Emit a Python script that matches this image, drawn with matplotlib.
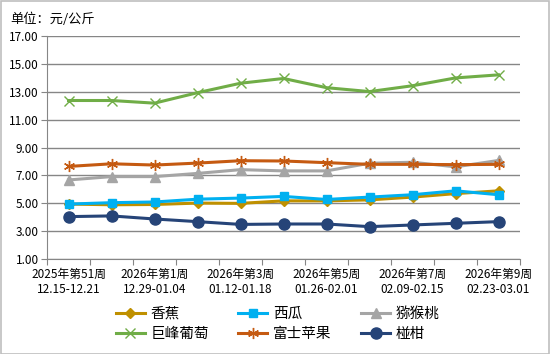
import numpy as np
import matplotlib
matplotlib.use('Agg')
import matplotlib.pyplot as plt
from matplotlib.patches import Rectangle

plt.rcParams['font.family'] = ['Noto Sans CJK SC', 'DejaVu Sans']

# --- dati ---
weeks = ['2025年第51周\n12.15-12.21', '2025年第52周\n12.22-12.28',
         '2026年第1周\n12.29-01.04', '2026年第2周\n01.05-01.11',
         '2026年第3周\n01.12-01.18', '2026年第4周\n01.19-01.25',
         '2026年第5周\n01.26-02.01', '2026年第6周\n02.02-02.08',
         '2026年第7周\n02.09-02.15', '2026年第8周\n02.16-02.22',
         '2026年第9周\n02.23-03.01']

banana = [4.95, 4.90, 4.92, 5.02, 5.00, 5.18, 5.18, 5.25, 5.45, 5.70, 5.90]
watermelon = [4.95, 5.05, 5.10, 5.30, 5.38, 5.50, 5.28, 5.45, 5.62, 5.90, 5.62]
kiwi = [6.68, 6.92, 6.92, 7.15, 7.42, 7.33, 7.33, 7.88, 7.95, 7.62, 8.08]
grape = [12.38, 12.38, 12.19, 12.94, 13.62, 13.96, 13.30, 13.02, 13.44, 14.00, 14.22]
apple = [7.65, 7.84, 7.75, 7.89, 8.06, 8.04, 7.92, 7.80, 7.80, 7.78, 7.80]
tangerine = [4.05, 4.10, 3.88, 3.69, 3.49, 3.52, 3.52, 3.33, 3.45, 3.57, 3.69]

series = [
    ('香蕉', banana, '#BF9000', 'D', 5.5),
    ('西瓜', watermelon, '#00B0F0', 's', 6),
    ('猕猴桃', kiwi, '#A5A5A5', '^', 7.5),
    ('巨峰葡萄', grape, '#70AD47', 'x', 7.5),
    ('富士苹果', apple, '#C55A11', (6, 2, 0), 8),
    ('椪柑', tangerine, '#264478', 'o', 8),
]

fig = plt.figure(figsize=(5.5, 3.54), dpi=100)
ax = fig.add_axes([0.0855, 0.268, 0.86, 0.63])

x = np.arange(len(weeks))
handles = {}
for name, vals, col, mk, ms in series:
    h, = ax.plot(x, vals, color=col, lw=2.2, marker=mk, markersize=ms,
                 markeredgecolor=col, markerfacecolor=col,
                 markeredgewidth=1.0,
                 label=name, zorder=3)
    handles[name] = h

ax.set_ylim(1, 17)
ax.set_yticks(np.arange(1, 18, 2))
ax.set_yticklabels([f'{v:.2f}' for v in np.arange(1, 18, 2)], fontsize=8.5)
ax.set_xlim(-0.5, len(weeks) - 0.5)

# tacche ai bordi delle categorie, etichette ogni due settimane
ax.set_xticks(np.arange(-0.5, len(weeks), 1.0))
ax.set_xticklabels([])
ax.set_xticks(x[::2], minor=True)
ax.set_xticklabels(weeks[::2], minor=True, fontsize=8.5, linespacing=1.25)
ax.tick_params(axis='x', which='major', length=4, color='#868686')
ax.tick_params(axis='x', which='minor', length=0, pad=6)
ax.tick_params(axis='y', length=4, color='#868686', pad=2)

ax.grid(axis='y', color='#868686', lw=1)
ax.set_axisbelow(True)
for s in ['top', 'right']:
    ax.spines[s].set_visible(False)
for s in ['left', 'bottom']:
    ax.spines[s].set_color('#868686')

fig.text(0.018, 0.945, '单位：元/公斤', fontsize=9.5, va='center')

order = ['香蕉', '巨峰葡萄', '西瓜', '富士苹果', '猕猴桃', '椪柑']
fig.legend([handles[n] for n in order], order, ncol=3, loc='center',
           bbox_to_anchor=(0.505, 0.085), frameon=False, fontsize=10.5,
           handlelength=2.0, columnspacing=2.0, labelspacing=0.45,
           handletextpad=0.4)

fig.add_artist(Rectangle((0.001, 0.001), 0.997, 0.996, transform=fig.transFigure,
                         fill=False, edgecolor='#BFBFBF', lw=1.2))

fig.savefig('out.png', dpi=100)
